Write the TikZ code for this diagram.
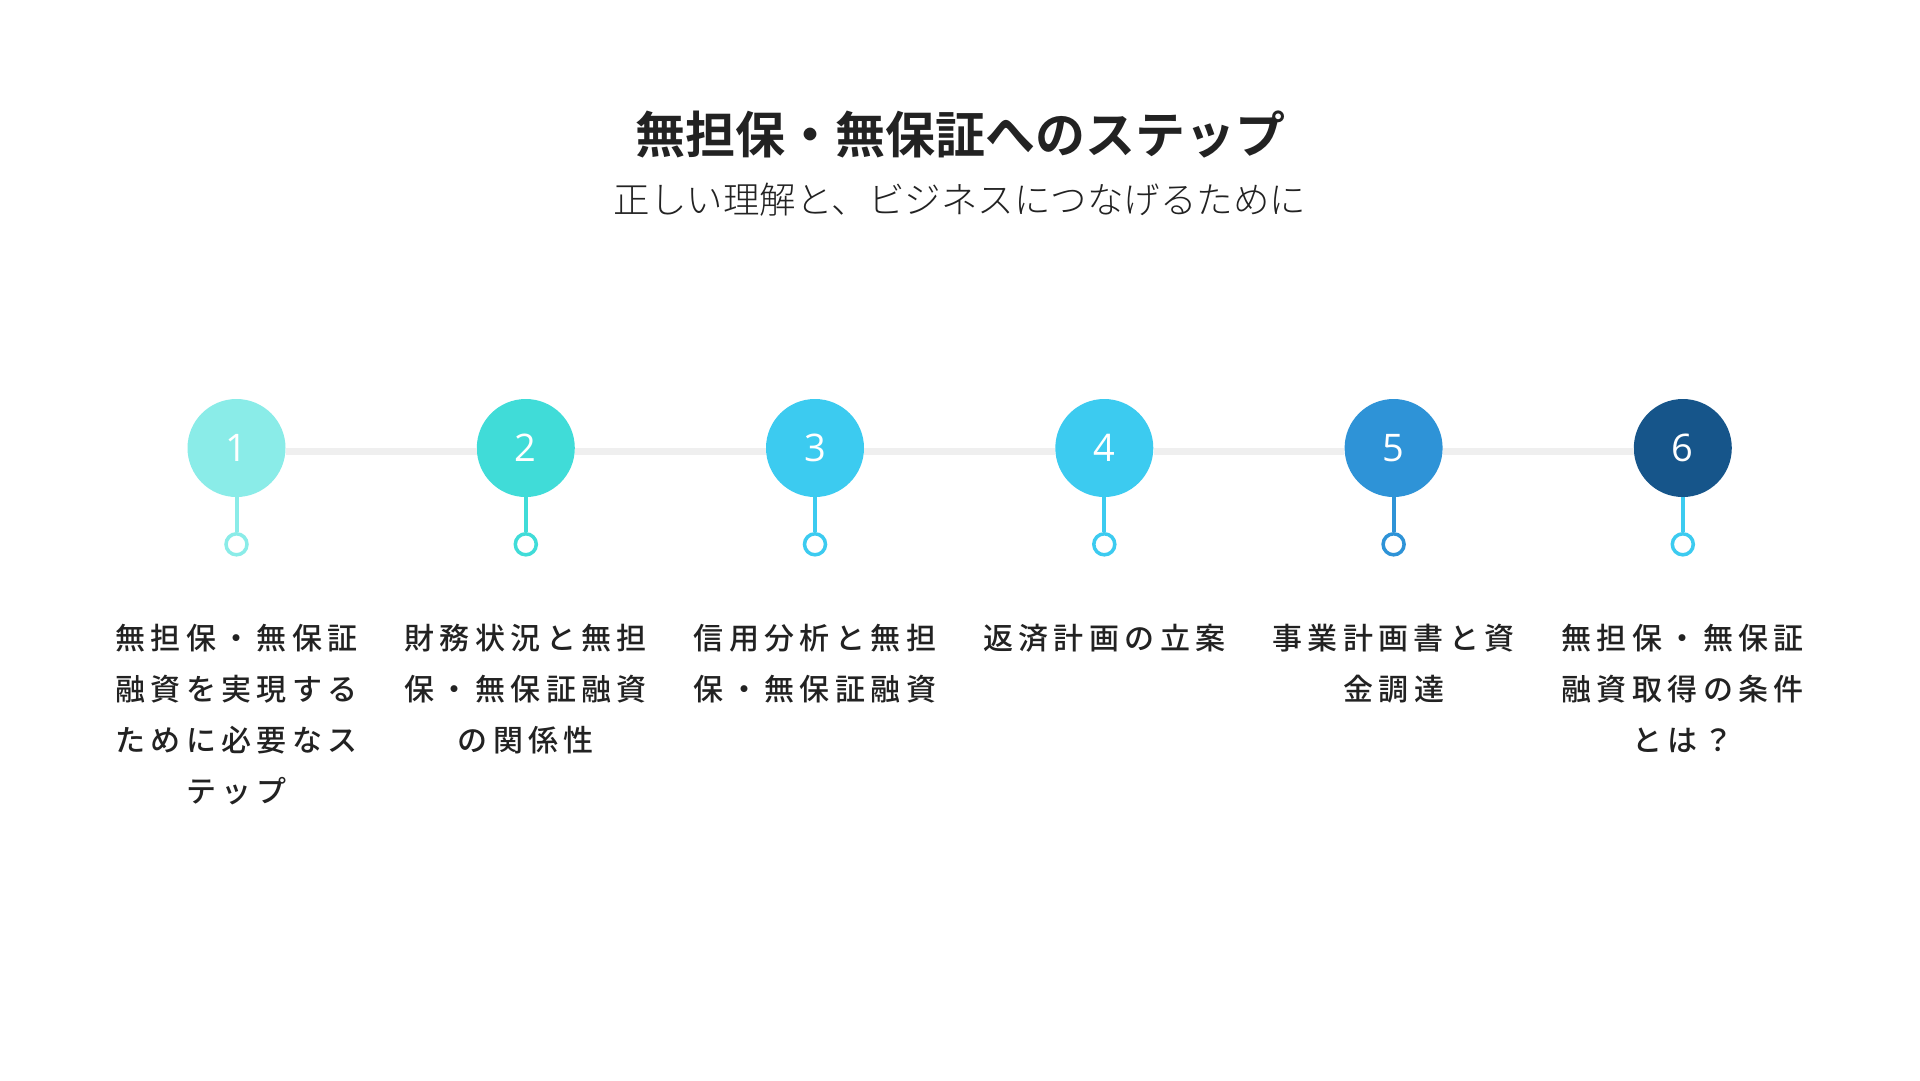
\documentclass[tikz,border=0pt]{standalone}
\usepackage{fontspec}
\newfontfamily\cjkbold{Noto Sans CJK JP Bold}
\newfontfamily\cjkreg{Noto Sans CJK JP Light}
\newfontfamily\numfont{Open Sans}
\newfontfamily\cjkls[LetterSpace=18]{Noto Sans CJK JP Medium}
\definecolor{cA}{HTML}{8AECE8}
\definecolor{cB}{HTML}{40DCD8}
\definecolor{cC}{HTML}{3CCBF0}
\definecolor{cD}{HTML}{3CCBF0}
\definecolor{cE}{HTML}{2E93D7}
\definecolor{cF}{HTML}{16558A}
\definecolor{track}{HTML}{EFEFEF}
\definecolor{txt}{HTML}{222222}
\tikzset{
  bigc/.style={circle, minimum size=98pt, inner sep=0pt, text=white, font=\numfont\fontsize{38}{40}\selectfont},
  smallc/.style={circle, minimum size=21pt, inner sep=0pt, line width=3.5pt, fill=white},
  stem/.style={line width=4pt},
  trackline/.style={line width=7pt, draw=track},
  lbl/.style={align=center, text=txt, anchor=north, font=\cjkls\fontsize{30}{51}\selectfont, inner sep=0pt},
}
\begin{document}
\begin{tikzpicture}[x=1pt,y=-1pt]
\useasboundingbox[fill=white] (0,0) rectangle (1920,1080);
\node[font=\cjkbold\fontsize{50}{54}\selectfont, text=txt] (title) at (960,134) {無担保・無保証へのステップ};
\node[font=\cjkreg\fontsize{36.5}{40}\selectfont, text=txt] (sub) at (960,200) {正しい理解と、ビジネスにつなげるために};
\foreach \i/\x/\col/\scol in {1/236.5/cA/cA, 2/525.8/cB/cB, 3/815/cC/cC, 4/1104.3/cD/cD, 5/1393.6/cE/cE, 6/1682.8/cF/cC} {
  \node[bigc, fill=\col] (c\i) at (\x,448) {\i};
  \node[smallc, draw=\scol] (s\i) at (\x,544.3) {};
}
\foreach \a/\b in {1/2,2/3,3/4,4/5,5/6} {
  \draw[trackline] ([yshift=-3pt]c\a.east) -- ([yshift=-3pt]c\b.west);
}
\foreach \i/\scol in {1/cA,2/cB,3/cC,4/cD,5/cE,6/cC} {
  \draw[stem, draw=\scol] (c\i.south) -- (s\i.north);
}
\node[lbl] (l1) at (236.5,624) {無担保・無保証\\融資を実現する\\ために必要なス\\テップ};
\node[lbl] (l2) at (525.8,624) {財務状況と無担\\保・無保証融資\\の関係性};
\node[lbl] (l3) at (815,624) {信用分析と無担\\保・無保証融資};
\node[lbl] (l4) at (1104.3,624) {返済計画の立案};
\node[lbl] (l5) at (1393.6,624) {事業計画書と資\\金調達};
\node[lbl] (l6) at (1682.8,624) {無担保・無保証\\融資取得の条件\\とは？};
\end{tikzpicture}
\end{document}
